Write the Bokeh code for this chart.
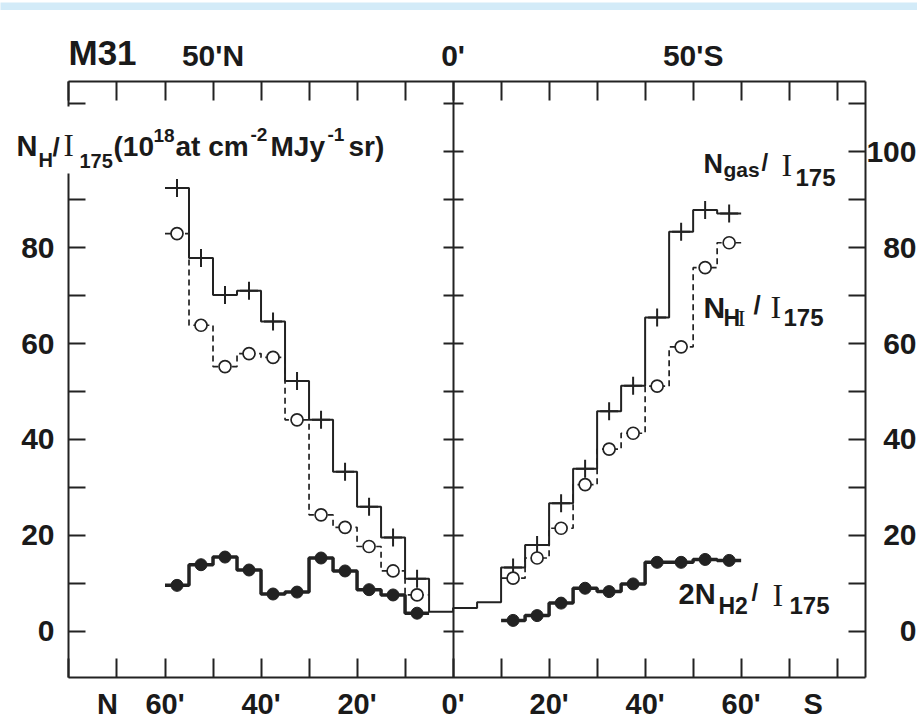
import numpy as np
from bokeh.plotting import figure
from bokeh.models import (Range1d, LinearAxis, FixedTicker, LabelSet,
                          ColumnDataSource, BoxAnnotation)
from bokeh.core.properties import value
from bokeh.layouts import column
from bokeh.embed import file_html
from bokeh.resources import INLINE

# ---- data: ratios along the major axis of M31 (offset in arcmin, north < 0 < south)
offset_north = [-57.5, -52.5, -47.5, -42.5, -37.5, -32.5, -27.5, -22.5, -17.5, -12.5, -7.5]
ngas_north = [92.4, 77.8, 70.1, 71.0, 64.6, 52.2, 44.1, 33.3, 26.0, 19.6, 11.0]
nhi_north = [82.9, 63.8, 55.2, 57.9, 57.1, 44.1, 24.3, 21.7, 17.7, 12.6, 7.6]
nh2_north = [9.6, 13.9, 15.5, 12.8, 7.8, 8.2, 15.3, 12.6, 8.7, 7.6, 3.8]

offset_centre = [-2.5, 2.5, 7.5]
ngas_centre = [4.1, 4.9, 6.1]

offset_south = [12.5, 17.5, 22.5, 27.5, 32.5, 37.5, 42.5, 47.5, 52.5, 57.5]
ngas_south = [13.3, 18.0, 26.7, 33.9, 45.9, 51.2, 65.4, 83.3, 87.8, 87.1]
nhi_south = [11.1, 15.3, 21.5, 30.6, 38.0, 41.3, 51.1, 59.3, 75.8, 81.0]
nh2_south = [2.3, 3.3, 5.9, 9.0, 8.3, 9.9, 14.4, 14.4, 15.0, 14.8]

BIN_WIDTH = 5.0

# ---- ticks and tick labels
x_tick_marks = list(range(-80, 81, 10))
y_tick_marks = list(range(0, 111, 10))
bottom_tick_values = [-72, -60, -40, -20, 0, 20, 40, 60, 75]
bottom_tick_labels = ["N", "60'", "40'", "20'", "0'", "20'", "40'", "60'", "S"]
top_tick_values = [-50, 0, 50]
top_tick_labels = ["50'N", "0'", "50'S"]
left_tick_values = [0, 20, 40, 60, 80]
right_tick_values = [0, 20, 40, 60, 80, 100]

# ---- geometry / style
X_LEFT, X_RIGHT = -80.1, 85.9          # box edges, arcmin
Y_BOT, Y_TOP = -9.6, 114.6             # box edges, ratio units
PAGE_W, PAGE_H, BAND_H = 917, 719, 10
BOX_L, BOX_R, BOX_T, BOX_B = 68, 865, 81, 677   # box edges in page pixels
SX = (BOX_R - BOX_L) / (X_RIGHT - X_LEFT)
SY = (BOX_B - BOX_T) / (Y_TOP - Y_BOT)
XR0 = X_LEFT - BOX_L / SX
XR1 = X_RIGHT + (PAGE_W - BOX_R) / SX
YR0 = Y_BOT - (PAGE_H - BOX_B) / SY
YR1 = Y_TOP + (BOX_T - BAND_H) / SY

INK = "#222222"
TXT = "#1a1a1a"
SANS = "Liberation Sans"
SERIF = "Liberation Serif"
BAND = "#d3ebf8"


def px2x(px):
    return XR0 + px / SX


def py2y(py):
    return YR1 - (py - BAND_H) / SY


def step_path(centres, values, width=BIN_WIDTH):
    c = np.asarray(centres, dtype=float)
    v = np.asarray(values, dtype=float)
    xs = np.column_stack([c - width / 2, c + width / 2]).ravel()
    ys = np.repeat(v, 2)
    return list(xs), list(ys)


p = figure(width=PAGE_W, height=PAGE_H - BAND_H,
           x_range=Range1d(XR0, XR1), y_range=Range1d(YR0, YR1),
           min_border=0, x_axis_location=None, y_axis_location=None,
           toolbar_location=None, output_backend="svg")
p.outline_line_color = None
p.background_fill_color = "white"
p.border_fill_color = "white"
p.grid.visible = False


def box_axis(where, bounds, marks, t_in, t_out=0):
    return LinearAxis(fixed_location=where, bounds=bounds,
                      ticker=FixedTicker(ticks=[], minor_ticks=marks),
                      minor_tick_in=t_in, minor_tick_out=t_out,
                      minor_tick_line_color=INK, minor_tick_line_width=2,
                      major_tick_line_color=None,
                      axis_line_color=INK, axis_line_width=2,
                      major_label_standoff=0)


p.add_layout(box_axis(Y_BOT, (X_LEFT, X_RIGHT), x_tick_marks, 19), "below")
p.add_layout(box_axis(Y_TOP, (X_LEFT, X_RIGHT), x_tick_marks, 19), "above")
p.add_layout(box_axis(X_LEFT, (Y_BOT, Y_TOP), y_tick_marks, 17), "left")
p.add_layout(box_axis(X_RIGHT, (Y_BOT, Y_TOP), y_tick_marks, 17), "right")
# central 0' line, ticked on both sides
p.add_layout(box_axis(0, (Y_BOT, Y_TOP), y_tick_marks, 10, 10), "left")

# N_gas / I175 : continuous histogram with crosses
gx, gy = step_path(offset_north + offset_centre + offset_south,
                   ngas_north + ngas_centre + ngas_south)
p.line(gx, gy, line_color=INK, line_width=2)
p.scatter(offset_north + offset_south, ngas_north + ngas_south, marker="cross",
          size=18, line_color=INK, line_width=2)

# N_HI / I175 : dashed histogram with open circles
hn_x, hn_y = step_path(offset_north, nhi_north)
hs_x, hs_y = step_path(offset_south, nhi_south)
p.multi_line([hn_x, hs_x], [hn_y, hs_y], line_color=INK, line_width=1.7,
             line_dash="6 4")
p.scatter(offset_north + offset_south, nhi_north + nhi_south, marker="circle",
          size=12, fill_color="white", line_color=INK, line_width=1.7)

# 2 N_H2 / I175 : thick histogram with filled circles
mn_x, mn_y = step_path(offset_north, nh2_north)
ms_x, ms_y = step_path(offset_south, nh2_south)
p.multi_line([mn_x, ms_x], [mn_y, ms_y], line_color=INK, line_width=3.5)
p.scatter(offset_north + offset_south, nh2_north + nh2_south, marker="circle",
          size=12, fill_color=INK, line_color=INK, line_width=1)

# tick labels
tick_font = value(SANS)


def tick_labels(xs, ys, texts, size, align, baseline, dx=0, dy=0):
    src = ColumnDataSource(dict(x=xs, y=ys, t=texts))
    p.add_layout(LabelSet(source=src, x="x", y="y", text="t",
                          x_offset=dx, y_offset=dy, text_align=align,
                          text_baseline=baseline, text_font=tick_font,
                          text_font_size=f"{size}px", text_font_style="bold",
                          text_color=TXT))


tick_labels(bottom_tick_values, [Y_BOT] * len(bottom_tick_values),
            bottom_tick_labels, 29, "center", "alphabetic", dy=-36)
tick_labels(top_tick_values, [Y_TOP] * len(top_tick_values),
            top_tick_labels, 30, "center", "alphabetic", dy=16)
tick_labels([X_LEFT] * len(left_tick_values), left_tick_values,
            [str(v) for v in left_tick_values], 30, "right", "middle", dx=-14)
tick_labels([X_RIGHT] * len(right_tick_values), right_tick_values,
            [str(v) for v in right_tick_values], 30, "right", "middle", dx=51)

# white ground behind the axis title, which sits over the box edge
p.add_layout(BoxAnnotation(left=px2x(0), right=px2x(392), top=py2y(106),
                           bottom=py2y(173), fill_color="white", fill_alpha=1.0,
                           line_color=None))

# free texts: (text, left px, baseline px, size px, family, style)
pieces = [
    ("M31", 68, 64, 35, SANS, "bold"),
    # axis title: N_H / I_175 (10^18 at cm^-2 MJy^-1 sr)
    ("N", 16, 155, 29, SANS, "bold"),
    ("H", 38, 166, 20, SANS, "bold"),
    ("/", 52, 155, 26, SANS, "bold"),
    ("I", 63, 155, 31, SERIF, "normal"),
    ("175", 79, 167, 20, SANS, "bold"),
    ("(10", 113, 155, 28, SANS, "bold"),
    ("18", 153, 141, 19, SANS, "bold"),
    ("at cm", 175, 155, 28, SANS, "bold"),
    ("-2", 250, 140, 19, SANS, "bold"),
    ("MJy", 270, 155, 28, SANS, "bold"),
    ("-1", 327, 140, 19, SANS, "bold"),
    ("sr)", 348, 155, 28, SANS, "bold"),
    # curve names
    ("N", 703, 172, 27, SANS, "bold"),
    ("gas", 723, 176, 21, SANS, "bold"),
    ("/", 761, 170, 24, SANS, "bold"),
    ("I", 781, 175, 32, SERIF, "normal"),
    ("175", 795, 185, 24, SANS, "bold"),
    ("N", 703, 317, 30, SANS, "bold"),
    ("H", 723, 325, 23, SANS, "bold"),
    ("I", 737, 325, 24, SERIF, "normal"),
    ("/", 753, 313, 26, SANS, "bold"),
    ("I", 770, 317, 32, SERIF, "normal"),
    ("175", 783, 325, 24, SANS, "bold"),
    ("2N", 678, 603, 29, SANS, "bold"),
    ("H2", 718, 613, 23, SANS, "bold"),
    ("/", 751, 600, 24, SANS, "bold"),
    ("I", 772, 605, 32, SERIF, "normal"),
    ("175", 789, 613, 24, SANS, "bold"),
]
notes = ColumnDataSource(dict(
    x=[px2x(q[1]) for q in pieces],
    y=[py2y(q[2]) for q in pieces],
    t=[q[0] for q in pieces],
    size=[f"{q[3]}px" for q in pieces],
    font=[q[4] for q in pieces],
    style=[q[5] for q in pieces],
))
p.add_layout(LabelSet(source=notes, x="x", y="y", text="t",
                      text_font_size="size", text_font="font",
                      text_font_style="style", text_color=TXT,
                      text_align="left", text_baseline="alphabetic"))

# light band across the top of the page
band = figure(width=PAGE_W, height=BAND_H, toolbar_location=None, output_backend="svg",
              x_axis_location=None, y_axis_location=None, min_border=0,
              background_fill_color=BAND, border_fill_color=BAND,
              outline_line_color=None)
band.grid.visible = False

layout = column(band, p, spacing=0)
open("out.html", "w").write(file_html(layout, INLINE))
